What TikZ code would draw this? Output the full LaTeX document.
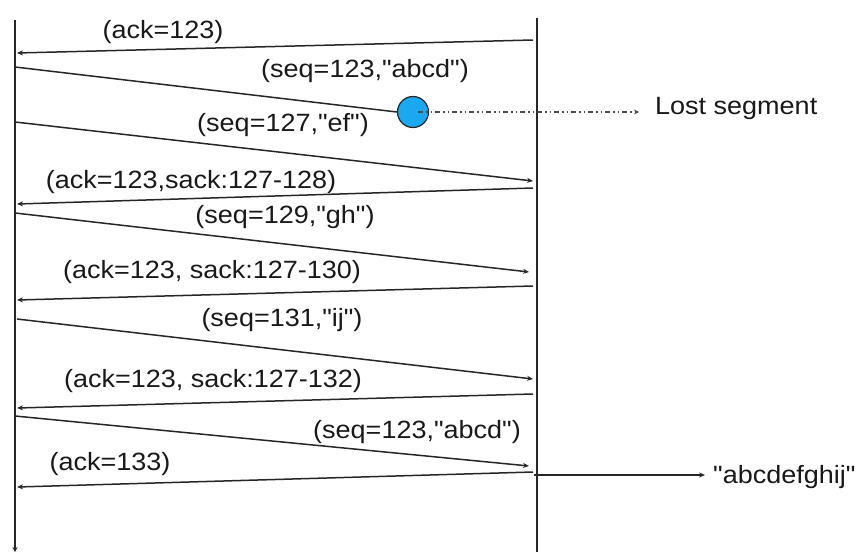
\documentclass[tikz,border=0pt]{standalone}
\usepackage{fontspec}
\setmainfont[FakeStretch=1.08, Ligatures=TeXOff]{Liberation Sans}
\usetikzlibrary{arrows.meta}
\definecolor{lostblue}{RGB}{28,168,240}

\begin{document}
\begin{tikzpicture}[
  x=1pt, y=-1pt,
  font=\fontsize{25}{29}\selectfont,
  host/.style={line width=1.4pt, draw=black!85, -{Stealth[length=5pt, width=5pt]}},
  msg/.style={-{Stealth[length=6pt, width=5pt]}, line width=1.5pt, draw=black!85},
  lbl/.style={inner sep=0pt, anchor=center, text=black!90},
  lostdot/.style={circle, draw=black!85, fill=lostblue, minimum size=31pt, inner sep=0pt, line width=1.2pt},
  gone/.style={-{Stealth[length=5pt, width=5pt]}, line width=1.1pt, draw=black!70,
               dash pattern=on 5pt off 3pt on 1.5pt off 3pt on 1.5pt off 3pt}
]
\useasboundingbox (0,0) rectangle (857,554);

% ---------------- the two hosts ----------------
\coordinate (sndtop) at (15,20);
\coordinate (sndbot) at (15,552);
\coordinate (rcvtop) at (537,18);
\coordinate (rcvbot) at (537,552);
\draw[host] (sndtop) -- (sndbot);
\draw[host, -] (rcvtop) -- (rcvbot);

% ---------------- end points of the segments ----------------
\coordinate (r1) at (533,40);  \coordinate (s1) at (17,53);
\coordinate (s2) at (15,67);
\coordinate (s3) at (15,122);  \coordinate (r3) at (533,181);
\coordinate (r4) at (533,188); \coordinate (s4) at (17,204);
\coordinate (s5) at (15,213);  \coordinate (r5) at (529,272);
\coordinate (r6) at (533,286); \coordinate (s6) at (17,300);
\coordinate (s7) at (17,319);  \coordinate (r7) at (533,379);
\coordinate (r8) at (533,394); \coordinate (s8) at (17,408);
\coordinate (s9) at (15,416);  \coordinate (r9) at (529,466);
\coordinate (r10) at (533,472); \coordinate (s10) at (17,487);
\coordinate (rcvout) at (534,475);
\coordinate (appin) at (705,475);

% ---------------- the lost segment ----------------
\node[lostdot] (drop) at (413,112) {};
\node[lbl, anchor=west] (lostlab) at (655,108) {Lost segment};
\coordinate (dropin) at ([xshift=5pt]drop.center);
\coordinate (lostend) at (639,112);
\draw[msg, -] (s2) -- (drop.west);
\draw[gone] (dropin) -- (lostend);

% ---------------- segments and acks ----------------
\draw[msg] (r1) -- (s1);
\draw[msg] (s3) -- (r3);
\draw[msg] (r4) -- (s4);
\draw[msg] (s5) -- (r5);
\draw[msg] (r6) -- (s6);
\draw[msg] (s7) -- (r7);
\draw[msg] (r8) -- (s8);
\draw[msg] (s9) -- (r9);
\draw[msg] (r10) -- (s10);

% ---------------- labels ----------------
\node[lbl] (l1) at (163,32) {(ack=123)};
\node[lbl] (l2) at (365,71) {(seq=123,"abcd")};
\node[lbl] (l3) at (283,125) {(seq=127,"ef")};
\node[lbl] (l4) at (191,182) {(ack=123,sack:127-128)};
\node[lbl] (l5) at (285,217) {(seq=129,"gh")};
\node[lbl] (l6) at (212,272) {(ack=123, sack:127-130)};
\node[lbl] (l7) at (282,320) {(seq=131,"ij")};
\node[lbl] (l8) at (213,381) {(ack=123, sack:127-132)};
\node[lbl] (l9) at (417,432) {(seq=123,"abcd")};
\node[lbl] (l10) at (110,464) {(ack=133)};

% ---------------- delivered to the application ----------------
\node[lbl, anchor=west] (appdata) at (713,477) {"abcdefghij"};
\draw[msg] (rcvout) -- (appin);

\end{tikzpicture}
\end{document}
